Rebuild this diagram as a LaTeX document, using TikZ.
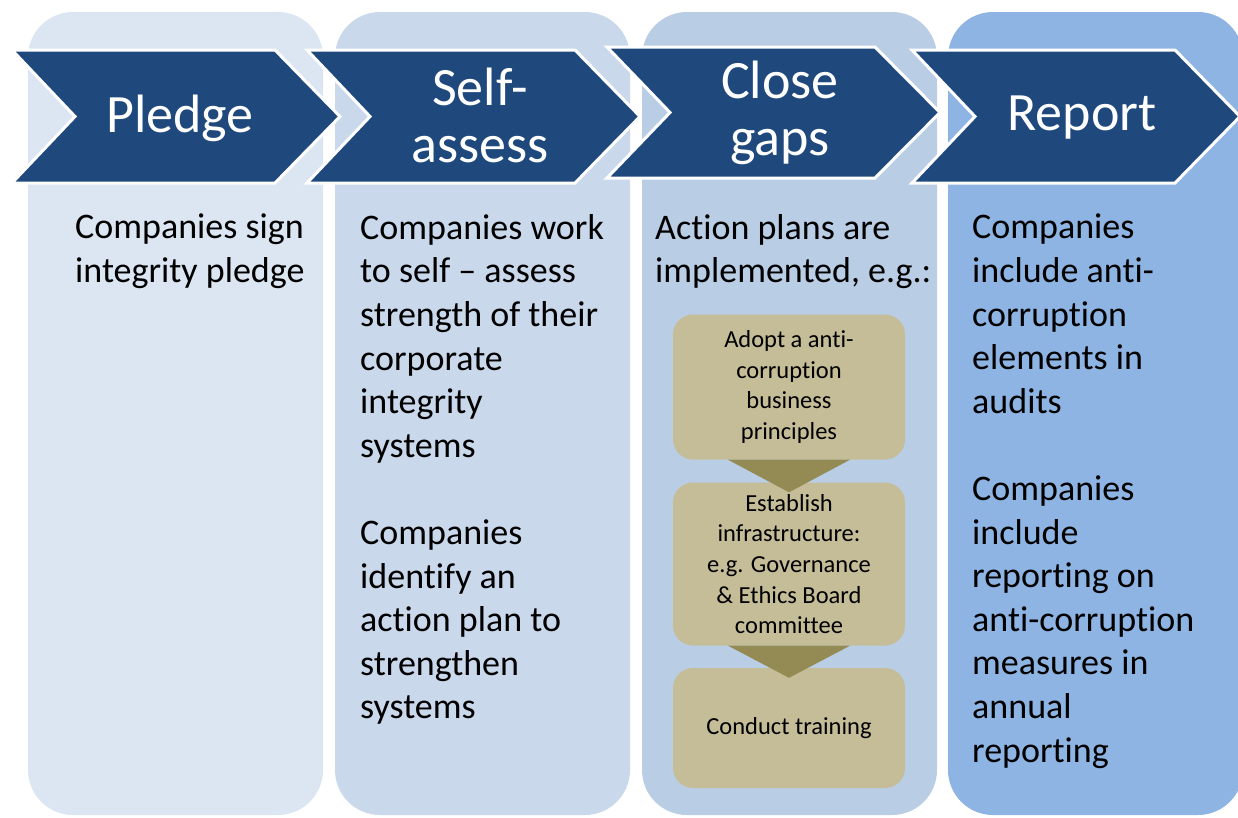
\documentclass[tikz,border=0pt]{standalone}
\usepackage{fontspec}
\setmainfont{Carlito}[Ligatures={NoCommon,NoContextual},RawFeature={-liga;-clig;-dlig;-calt}]
\usetikzlibrary{calc}
\definecolor{colA}{HTML}{DCE6F2}
\definecolor{colB}{HTML}{CAD8EB}
\definecolor{colC}{HTML}{B9CDE5}
\definecolor{colD}{HTML}{8EB4E3}
\definecolor{chev}{HTML}{1F497D}
\definecolor{boxtan}{HTML}{C4BD97}
\definecolor{arrowolive}{HTML}{948A54}
\begin{document}
\begin{tikzpicture}[x=1pt,y=-1pt,
  column/.style={rounded corners=45pt},
  chevron/.style={fill=chev, draw=white, line width=3pt, line join=miter},
  chevtext/.style={text=white, align=center, inner sep=0pt, font=\fontsize{54}{57}\selectfont},
  body/.style={anchor=north west, inner sep=0pt, align=left, font=\fontsize{36}{43.6}\selectfont},
  stepbox/.style={fill=boxtan, rounded corners=20pt, minimum width=232pt, align=center, inner sep=0pt, font=\fontsize{24.5}{30.7}\selectfont},
  flowtri/.style={fill=arrowolive}]
\useasboundingbox (0,0) rectangle (1238,817);
% columns
\fill[colA, column] (28,12) rectangle (323,815);
\fill[colB, column] (335,12) rectangle (630,815);
\fill[colC, column] (642,12) rectangle (937,815);
\fill[colD, column] (948,12) rectangle (1243,815);
% chevrons
\draw[chevron] (12,50) -- (275,50) -- (340,116.5) -- (275,183) -- (12,183) -- (75,116.5) -- cycle;
\draw[chevron] (307,50) -- (575,50) -- (640,116.5) -- (575,183) -- (307,183) -- (370,116.5) -- cycle;
\draw[chevron] (607,47) -- (875,47) -- (940,112.5) -- (875,178) -- (607,178) -- (670,112.5) -- cycle;
\draw[chevron] (912,50) -- (1175,50) -- (1240,116.5) -- (1175,183) -- (912,183) -- (975,116.5) -- cycle;
\node[chevtext] (t1) at (180,118) {Pledge};
\node[chevtext] (t2) at (480,115) {Self-\\assess};
\node[chevtext] (t3) at (780,113) {Close\\gaps};
\node[chevtext] (t4) at (1082,118) {Report};
% body texts
\node[body] (b1) at (75,214) {Companies sign\\integrity pledge};
\node[body] (b2) at (360,214) {Companies work\\to self -- assess\\strength of their\\corporate\\integrity\\systems\\[43.6pt]Companies\\identify an\\action plan to\\strengthen\\systems};
\node[body] (b3) at (655,214) {Action plans are\\implemented, e.g.:};
\node[body] (b4) at (972,214) {Companies\\include anti-\\corruption\\elements in\\audits\\[43.6pt]Companies\\include\\reporting on\\anti-corruption\\measures in\\annual\\reporting};
% step boxes
\node[stepbox, minimum height=145pt] (s1) at (789,387) {Adopt a anti-\\corruption\\business\\principles};
\node[stepbox, minimum height=163pt] (s2) at (789,564) {Establish\\infrastructure:\\e.g. Governance\\\& Ethics Board\\committee};
\node[stepbox, minimum height=120pt] (s3) at (789,728) {Conduct training};
% arrows
\fill[flowtri] ($(s1.south)+(-61,0)$) -- ($(s1.south)+(61,0)$) -- ($(s2.north)+(0,10)$) -- cycle;
\fill[flowtri] ($(s2.south)+(-61,0)$) -- ($(s2.south)+(61,0)$) -- ($(s3.north)+(0,10)$) -- cycle;
\end{tikzpicture}
\end{document}
